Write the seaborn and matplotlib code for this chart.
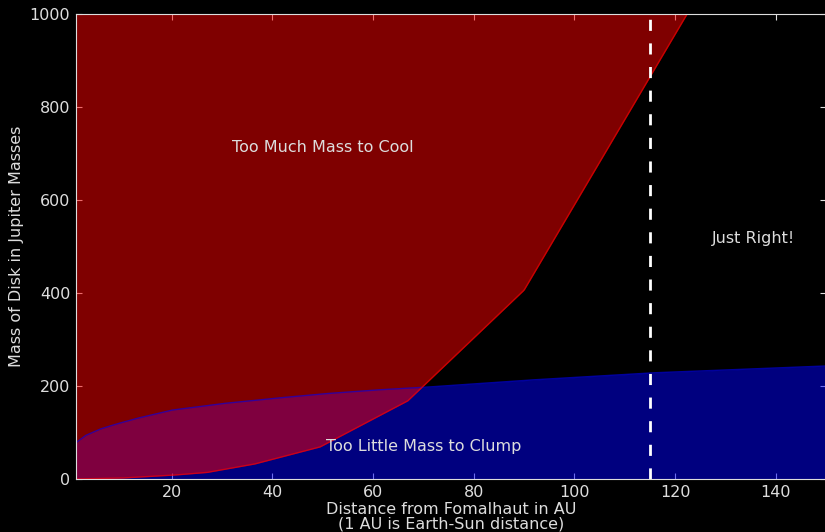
import seaborn as sns
import matplotlib.pyplot as plt
import numpy as np
import pandas as pd

# cooling limit (upper region is "too much mass to cool")
cool_r = [1, 10, 20, 27, 36.4, 49.5, 66.9, 90, 122.4, 150]
cool_m = [0, 2, 8, 14, 32, 69, 168, 406, 1000, 1510]

# clumping limit (lower region is "too little mass to clump")
clump_r = [1, 3, 6, 9, 13, 20, 30, 40, 50, 60, 70, 90, 115, 150]
clump_m = [78, 94, 108, 118, 130, 148, 162, 173, 183, 191, 197, 212, 228, 243]

fomalhaut_r = 115

sns.set_style('dark')
txt = '#dddddd'
plt.rcParams.update({
    'figure.facecolor': 'black', 'axes.facecolor': 'black',
    'axes.edgecolor': txt, 'axes.labelcolor': txt,
    'xtick.color': txt, 'ytick.color': txt, 'text.color': txt,
    'xtick.direction': 'in', 'ytick.direction': 'in',
    'xtick.top': True, 'ytick.right': True,
    'xtick.bottom': True, 'ytick.left': True,
    'font.size': 11.5,
})
plt.rcParams['font.family'] = ['DejaVu Sans']

fig = plt.figure(figsize=(8.25, 5.32), dpi=100)
ax = fig.add_axes([0.092, 0.0996, 0.9095, 0.8744])

r = np.linspace(1, 150, 600)
cool = np.interp(r, cool_r, cool_m)
clump = np.interp(r, clump_r, clump_m)

df = pd.DataFrame({'r': r, 'cool': np.minimum(cool, 1000), 'clump': clump})

ax.fill_between(df['r'], 0, df['clump'], color='blue', alpha=0.5, lw=0)
ax.fill_between(df['r'], df['cool'], 1000, color='red', alpha=0.5, lw=0)
sns.lineplot(data=df, x='r', y='clump', color='blue', alpha=0.6, lw=1, ax=ax)
sns.lineplot(data=df[df['cool'] < 1000], x='r', y='cool', color='red',
             alpha=0.6, lw=1, ax=ax)
ax.axvline(fomalhaut_r, color='white', ls='--', lw=2, dashes=(4, 4.5))

ax.text(50, 712, 'Too Much Mass to Cool', ha='center', va='center')
ax.text(135.5, 518, 'Just Right!', ha='center', va='center')
ax.text(70, 69, 'Too Little Mass to Clump', ha='center', va='center')

ax.set_xlim(1, 150)
ax.set_ylim(0, 1000)
ax.set_xticks([20, 40, 60, 80, 100, 120, 140])
ax.set_yticks([0, 200, 400, 600, 800, 1000])
ax.tick_params(length=4, width=0.8, labelsize=11.5, pad=4)
ax.set_xlabel('Distance from Fomalhaut in AU\n(1 AU is Earth-Sun distance)',
              labelpad=2, linespacing=0.95)
ax.set_ylabel('Mass of Disk in Jupiter Masses')
ax.grid(False)

plt.savefig('out.png', dpi=100, facecolor='black')
